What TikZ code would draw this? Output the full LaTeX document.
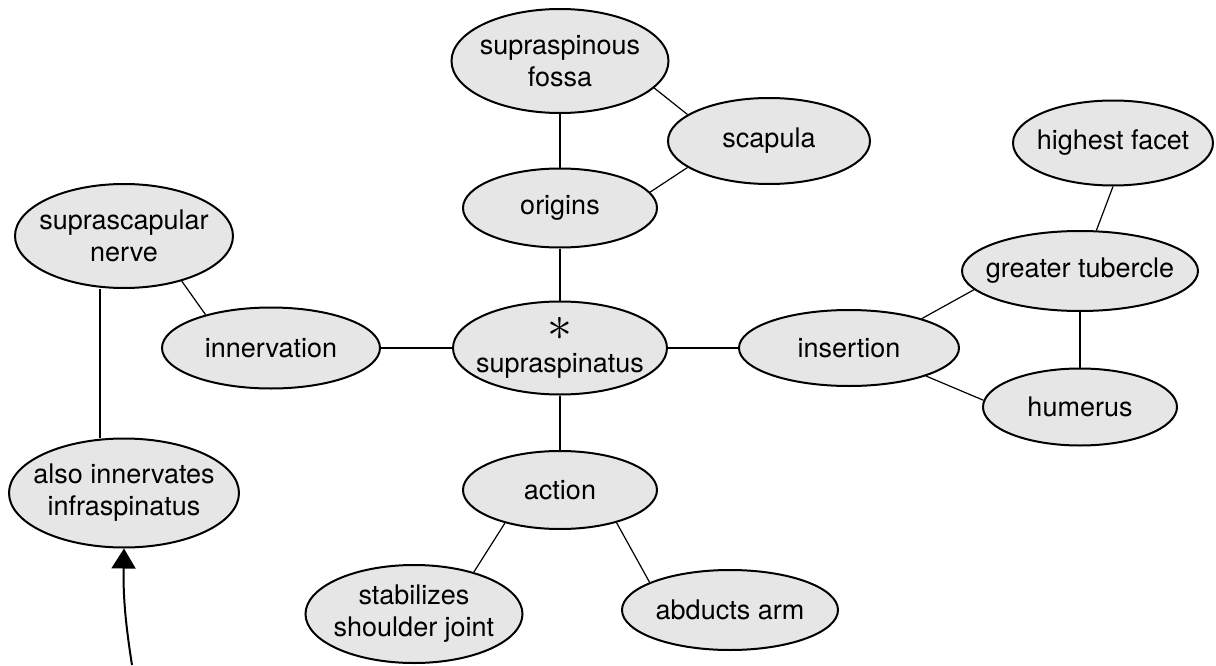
\documentclass[tikz,border=0pt]{standalone}
\usepackage{fontspec}
\setmainfont{TeX Gyre Heros}
\usetikzlibrary{shapes.geometric,positioning,arrows.meta}
\definecolor{conceptfill}{RGB}{230,230,230}

\begin{document}
\begin{tikzpicture}[
    on grid,
    concept/.style={
        ellipse,
        draw,
        fill=conceptfill,
        line width=1pt,
        align=center,
        inner xsep=-10pt,
        inner ysep=-4pt,
        font=\fontsize{13.5}{16}\selectfont
    },
    link/.style={
        line width=0.6pt
    },
    arrow/.style={
        ->,
        line width=1pt,
        >={Triangle[width=12pt,length=10pt]}
    }
]
\useasboundingbox (-280pt,-158.5pt) rectangle (328pt,174pt);

% Nodes
\node [concept, minimum width=107pt, minimum height=46.5pt] (sup) {{\fontsize{24}{16}\selectfont$\ast$}\\supraspinatus};

\node [concept, above of=sup, node distance=70pt, minimum width=97pt, minimum height=39.5pt] (origins) {origins};
\node [concept, above of=origins, node distance=73.5pt, minimum width=108.5pt, minimum height=52pt] (fossa) {supraspinous\\fossa};
\node [concept, above right=33.5pt and 104.5pt of origins, minimum width=101pt, minimum height=43pt] (scapula) {scapula};

\node [concept, left of=sup, node distance=144.5pt, minimum width=109pt, minimum height=40.5pt] (innervation) {innervation};
\node [concept, above left=56pt and 73.5pt of innervation, minimum width=109pt, minimum height=52pt] (nerve) {suprascapular\\nerve};
\node [concept, below of=nerve, node distance=128.5pt, minimum width=115pt, minimum height=54.5pt] (also) {also innervates\\infraspinatus};

\node [concept, right of=sup, node distance=144.5pt, minimum width=110pt, minimum height=38pt] (insertion) {insertion};
\node [concept, above right=38.5pt and 115.5pt of insertion, minimum width=118pt, minimum height=40pt] (greater) {greater tubercle};
\node [concept, below of=greater, node distance=68pt, minimum width=97pt, minimum height=38.5pt] (humerus) {humerus};
\node [concept, above right=64pt and 16.5pt of greater, minimum width=100pt, minimum height=42.5pt] (highest) {highest facet};

\node [concept, below of=sup, node distance=71pt, minimum width=97pt, minimum height=39pt] (action) {action};
\node [concept, below left=62pt and 73pt of action, minimum width=108.5pt, minimum height=49pt] (stab) {stabilizes\\shoulder joint};
\node [concept, below right=60pt and 85pt of action, minimum width=108pt, minimum height=40pt] (abducts) {abducts arm};

\coordinate [below left=158.5pt and 214pt of sup] (src);

% Links
\draw [link] (fossa) -- (origins);
\draw [link] (fossa.344) -- (scapula.162);
\draw [link] (origins.10) -- (scapula.198);
\draw [link] (origins) -- (sup);
\draw [link] (nerve.322) -- (innervation.153);
\draw [link] ([xshift=-12pt]nerve.south) -- ([xshift=-12pt]also.north);
\draw [link] (innervation) -- (sup);
\draw [link] (sup) -- (insertion);
\draw [link] (insertion.22) -- (greater.190);
\draw [link] (insertion.340) -- (humerus.176);
\draw [link] (highest.south) -- (greater.68);
\draw [link] (greater) -- (humerus);
\draw [link] (sup) -- (action);
\draw [link] (action.211) -- (stab.35);
\draw [link] (action.330) -- (abducts.161);

% Pointer
\draw [arrow] (src) to[bend left=5] (also.south);

\end{tikzpicture}
\end{document}
